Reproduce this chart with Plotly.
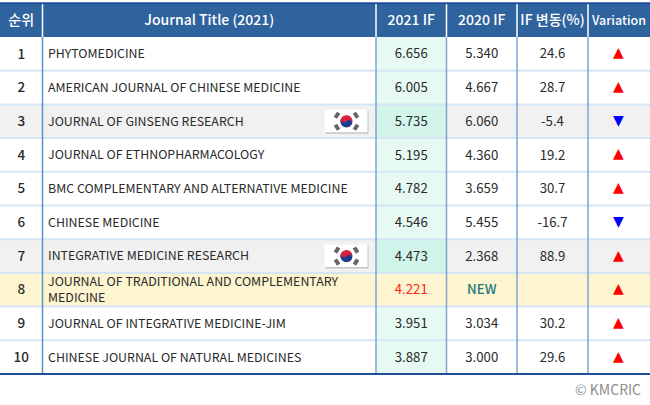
import numpy as np
import plotly.graph_objects as go

ranks = [1, 2, 3, 4, 5, 6, 7, 8, 9, 10]
journals = [
    "PHYTOMEDICINE",
    "AMERICAN JOURNAL OF CHINESE MEDICINE",
    "JOURNAL OF GINSENG RESEARCH",
    "JOURNAL OF ETHNOPHARMACOLOGY",
    "BMC COMPLEMENTARY AND ALTERNATIVE MEDICINE",
    "CHINESE MEDICINE",
    "INTEGRATIVE MEDICINE RESEARCH",
    "JOURNAL OF TRADITIONAL AND COMPLEMENTARY<br>MEDICINE",
    "JOURNAL OF INTEGRATIVE MEDICINE-JIM",
    "CHINESE JOURNAL OF NATURAL MEDICINES",
]
if_2021 = ["6.656", "6.005", "5.735", "5.195", "4.782", "4.546", "4.473", "4.221", "3.951", "3.887"]
if_2020 = ["5.340", "4.667", "6.060", "4.360", "3.659", "5.455", "2.368", "NEW", "3.034", "3.000"]
if_change = ["24.6", "28.7", "-5.4", "19.2", "30.7", "-16.7", "88.9", "", "30.2", "29.6"]
variation = ["up", "up", "down", "up", "up", "down", "up", "up", "up", "up"]
headers = ["순위", "Journal Title (2021)", "2021 IF", "2020 IF", "IF 변동(%)", "Variation"]
flag_rows = [3, 7]

edges = [0, 42.5, 376, 446.5, 517, 588, 650]
row_px = 33.7
FONT = "Noto Sans CJK KR"
MEDIUM = "Noto Sans CJK KR Medium, Noto Sans CJK KR"
HEAD = "#2f639e"
NAVY = "#1f4e9b"
INK = "#2a2a2a"
text_dy = 0.04  # CJK font sits a little high


def row_fill(rank):
    if rank == 8:
        return "#fdf5cf"
    if rank in flag_rows:
        return "#f1f1f1"
    return "#ffffff"


if_fill = {1: "#e6f9f3", 2: "#e6f9f3", 3: "#d3f4ea", 4: "#e6f9f3", 5: "#e6f9f3",
           6: "#e6f9f3", 7: "#d0f4e9", 8: "#fdf5cf", 9: "#e6f9f3", 10: "#e6f9f3"}

fig = go.Figure()

# cells are horizontal bars, one trace per column
for c in range(6):
    colors = [HEAD]
    for r in ranks:
        colors.append(if_fill[r] if c == 2 else row_fill(r))
    fig.add_trace(go.Bar(
        y=[0] + ranks,
        x=[edges[c + 1] - edges[c]] * 11,
        base=edges[c],
        orientation="h",
        width=1,
        marker=dict(color=colors, line_width=0),
        hoverinfo="skip",
    ))


def centers(c):
    return (edges[c] + edges[c + 1]) / 2


def text_col(x, rows, text, color=INK, size=12, pos="middle center", family=FONT, dy=text_dy):
    fig.add_trace(go.Scatter(
        x=x, y=[r + dy for r in rows], text=text, mode="text", textposition=pos,
        textfont=dict(family=family, size=size, color=color),
        hoverinfo="skip",
    ))


# header
text_col([centers(c) for c in range(6)], [0] * 6, headers, color="#ffffff",
         size=[14, 14, 14, 14, 14, 12.5], family=MEDIUM)

# body
text_col([centers(0)] * 10, ranks, [str(r) for r in ranks], size=13.5, family=MEDIUM)
text_col([48] * 10, ranks, journals, size=12.4, pos="middle right")
text_col([centers(2)] * 10, ranks, if_2021,
         color=["#ff2020" if r == 8 else INK for r in ranks], size=13.2)
text_col([centers(3)] * 10, ranks, if_2020,
         color=["#1f7a78" if v == "NEW" else INK for v in if_2020], size=13.2,
         family=[MEDIUM if v == "NEW" else FONT for v in if_2020])
text_col([centers(4)] * 10, ranks, if_change, size=13.2)

text_col([centers(5) - 0.5] * 10, ranks, ["▲" if v == "up" else "▼" for v in variation],
         color=["#ff0000" if v == "up" else "#0000ff" for v in variation],
         size=14, family="DejaVu Sans", dy=0)

# rules
shapes = []
for r in ranks[:-1]:
    shapes.append(dict(type="line", xref="x", yref="y", x0=0, x1=650, y0=r + 0.5, y1=r + 0.5,
                       line=dict(color="#d5e5f5", width=2)))
for e in edges[1:-1]:
    shapes.append(dict(type="line", xref="x", yref="y", x0=e, x1=e, y0=-0.5, y1=0.5,
                       line=dict(color="#ffffff", width=1.5)))
    shapes.append(dict(type="line", xref="x", yref="y", x0=e, x1=e, y0=0.5, y1=10.5,
                       line=dict(color="#5f90c8" if e == edges[1] else "#7fa3cf", width=1.5)))
for y_edge in [-0.5, 10.5]:
    shapes.append(dict(type="line", xref="x", yref="y", x0=0, x1=650, y0=y_edge, y1=y_edge,
                       line=dict(color=NAVY, width=2)))


# flags, offsets in px from the flag centre
def px_path(pts, cy):
    return "M" + " L".join("%.2f,%.4f" % (x, cy + y / row_px) for x, y in pts) + " Z"


for fr in flag_rows:
    fx = 346.5
    fy = fr
    shapes.append(dict(type="rect", xref="x", yref="y", x0=fx - 21, x1=fx + 22,
                       y0=fy - 10.5 / row_px, y1=fy + 12.5 / row_px,
                       fillcolor="#c4c4c4", line_width=0))
    shapes.append(dict(type="rect", xref="x", yref="y", x0=fx - 22, x1=fx + 21,
                       y0=fy - 11.5 / row_px, y1=fy + 11 / row_px,
                       fillcolor="#ffffff", line_width=0))
    t = np.linspace(0, 2 * np.pi, 40)
    rad = 6
    tilt = np.radians(33)
    circle = [(fx + rad * np.cos(a), rad * np.sin(a)) for a in t]
    shapes.append(dict(type="path", xref="x", yref="y", path=px_path(circle, fy),
                       fillcolor="#d9203a", line_width=0))
    # blue half with the s curve
    pts = []
    for a in np.linspace(0, np.pi, 20):
        pts.append((rad * np.cos(a), rad * np.sin(a)))
    for a in np.linspace(np.pi, 0, 12):
        pts.append((-rad / 2 + rad / 2 * np.cos(a), rad / 2 * np.sin(a)))
    for a in np.linspace(np.pi, 2 * np.pi, 12):
        pts.append((rad / 2 + rad / 2 * np.cos(a), rad / 2 * np.sin(a)))
    rot = [(fx + x * np.cos(tilt) - y * np.sin(tilt), x * np.sin(tilt) + y * np.cos(tilt)) for x, y in pts]
    shapes.append(dict(type="path", xref="x", yref="y", path=px_path(rot, fy),
                       fillcolor="#143f93", line_width=0))
    # trigrams
    for dx, dy, ang in [(-9.5, -6, -57), (9.5, -6, 57), (-9.5, 6, 57), (9.5, 6, -57)]:
        a = np.radians(ang)
        box = [(-3, -2), (3, -2), (3, 2), (-3, 2)]
        rb = [(fx + dx + x * np.cos(a) - y * np.sin(a), dy + x * np.sin(a) + y * np.cos(a)) for x, y in box]
        shapes.append(dict(type="path", xref="x", yref="y", path=px_path(rb, fy),
                           fillcolor="#666666", line_width=0))

fig.update_layout(
    width=650, height=405,
    margin=dict(l=0, r=0, t=0, b=0),
    paper_bgcolor="#ffffff", plot_bgcolor="#ffffff",
    barmode="overlay",
    showlegend=False,
    xaxis=dict(range=[0, 650], visible=False),
    yaxis=dict(range=[11.42, -0.598], visible=False),
    shapes=shapes,
    annotations=[dict(
        x=643, y=1 - 389 / 405, xref="x", yref="paper", text="© KMCRIC", showarrow=False,
        xanchor="right", yanchor="middle",
        font=dict(family=FONT, size=14, color="#8c8c8c"),
    )],
)

fig.write_html("out.html", config=dict(displayModeBar=False),
               post_script="document.body.style.margin='0';")
